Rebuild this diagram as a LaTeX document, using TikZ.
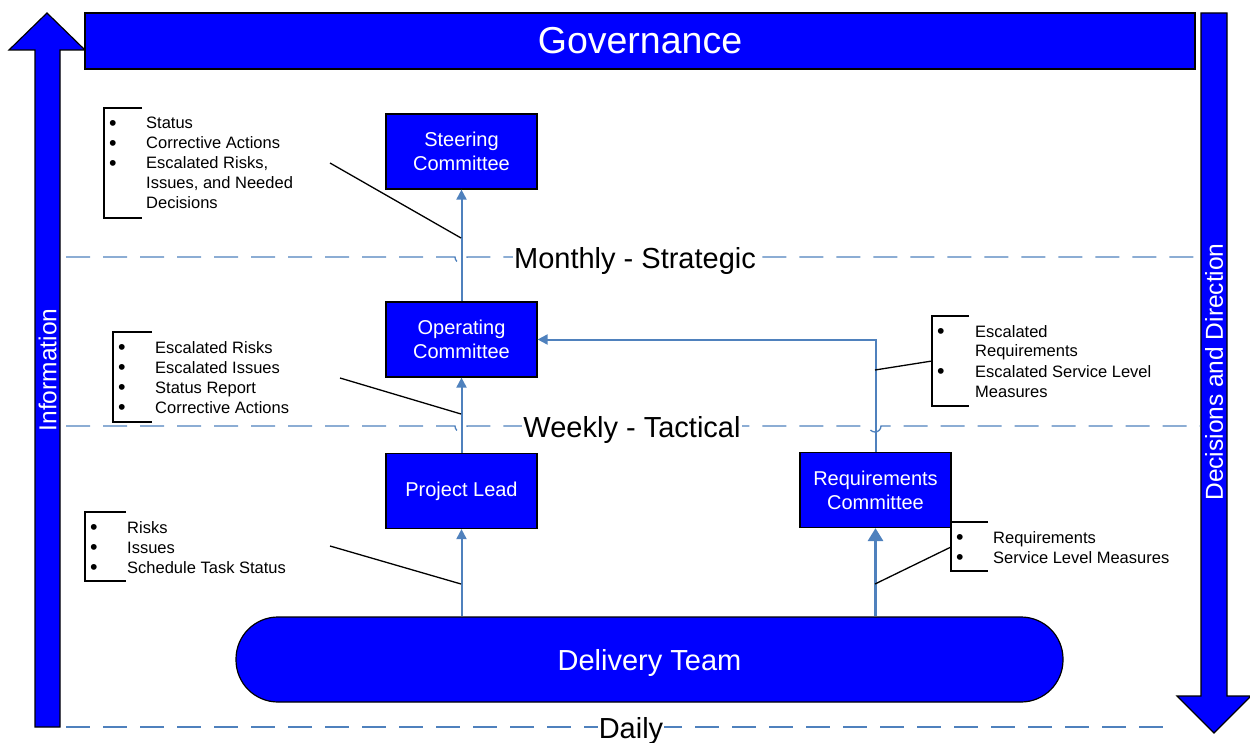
\documentclass[tikz,border=0pt]{standalone}
\usepackage{fontspec}
\setmainfont{Liberation Sans}
\usetikzlibrary{arrows.meta}

\definecolor{pureblue}{RGB}{0,0,255}
\definecolor{steel}{RGB}{79,129,189}

\tikzset{
  bluebox/.style={draw=black, line width=1.2pt, fill=pureblue, text=white, align=center,
    minimum width=151pt, minimum height=75pt, inner sep=0pt, font=\fontsize{20}{24}\selectfont},
  bigarrow/.style={draw=black, line width=1.2pt, fill=pureblue},
  flow/.style={draw=steel, line width=2pt, -{Triangle[length=10pt,width=10pt]}},
  period/.style={draw=steel, line width=1.3pt, dash pattern=on 24pt off 13pt},
  periodlabel/.style={fill=white, inner sep=1pt, text depth=0pt, font=\fontsize{29}{34}\selectfont},
  note/.style={anchor=base west, inner sep=0pt, font=\fontsize{16.5}{20}\selectfont},
  bracket/.style={draw=black, line width=1.2pt},
  leader/.style={draw=black, line width=1.3pt},
}
\newcommand{\itm}[1]{\raisebox{-1.8pt}[0pt][0pt]{\scalebox{1.3}{\textbullet}} & #1\\}
\newcommand{\more}[1]{ & #1\\}

\begin{document}
\begin{tikzpicture}[x=1pt,y=-1pt]
  \useasboundingbox (0,0) rectangle (1250,743);

  % side arrows
  \draw[bigarrow] (35,727) -- (35,50) -- (9,50) -- (47,13) -- (85,50) -- (60,50) -- (60,727) -- cycle;
  \draw[bigarrow] (1201,13) -- (1227,13) -- (1227,696) -- (1251,696) -- (1214,733) -- (1177,696) -- (1201,696) -- cycle;
  \node[rotate=90, text=white, font=\fontsize{24.5}{28}\selectfont] (info) at (47.5,370) {Information};
  \node[rotate=90, text=white, font=\fontsize{24.5}{28}\selectfont] (decide) at (1214,372) {Decisions and Direction};

  % banner
  \node[draw=black, line width=1.2pt, fill=pureblue, text=white, minimum width=1110pt, minimum height=56pt,
    font=\fontsize{37.5}{42}\selectfont] (gov) at (640,41) {Governance};

  % time lines
  \draw[period] (66,257) -- (455,257) arc (180:0:6) -- (1200,257);
  \draw[period] (66,426) -- (455,426) arc (180:0:6) -- (869,426) arc (180:0:6) -- (1200,426);
  \draw[period] (66,727) -- (1175,727);
  \node[periodlabel] (monthly) at (635,258) {Monthly - Strategic};
  \node[periodlabel] (weekly) at (632,427) {Weekly - Tactical};
  \node[periodlabel] (daily) at (631,728) {Daily};

  % bodies
  \node[bluebox] (steer) at (461.5,151.5) {Steering\\Committee};
  \node[bluebox] (oper) at (461.5,339.5) {Operating\\Committee};
  \node[bluebox] (lead) at (461.5,491) {Project Lead};
  \node[bluebox] (reqc) at (875.5,490) {Requirements\\Committee};
  \node[draw=black, line width=1.2pt, fill=pureblue, text=white, rounded corners=42pt, text depth=0pt,
    minimum width=827pt, minimum height=85pt, font=\fontsize{29}{34}\selectfont] (team) at (649.5,659.5) {Delivery Team};

  % reporting flow
  \draw[flow] (lead.south |- team.north) -- (lead.south);
  \draw[flow] (lead.north) -- (oper.south);
  \draw[flow] (oper.north) -- (steer.south);
  \draw[flow, line width=3pt, -{Triangle[length=13pt,width=15pt]}] (reqc.south |- team.north) -- (reqc.south);
  \draw[flow] (reqc.north) |- (oper.east);

  % what goes up at each level
  \draw[bracket] (142,108) -| (104,218) -- (142,218);
  \node[note] (steernote) at (109,129) {\begin{tabular}[t]{@{}p{37pt}@{}l@{}}
    \itm{Status}
    \itm{Corrective Actions}
    \itm{Escalated Risks,}
    \more{Issues, and Needed}
    \more{Decisions}
  \end{tabular}};
  \coordinate (steertail) at (330,163);
  \coordinate (steertip) at (461,238);
  \draw[leader] (steertail) -- (steertip);

  \draw[bracket] (152,332) -| (113,422) -- (152,422);
  \node[note] (opernote) at (118,353) {\begin{tabular}[t]{@{}p{37pt}@{}l@{}}
    \itm{Escalated Risks}
    \itm{Escalated Issues}
    \itm{Status Report}
    \itm{Corrective Actions}
  \end{tabular}};
  \coordinate (opertail) at (340,378);
  \coordinate (opertip) at (461,414);
  \draw[leader] (opertail) -- (opertip);

  \draw[bracket] (126,512) -| (85,581) -- (126,581);
  \node[note] (leadnote) at (90,533) {\begin{tabular}[t]{@{}p{37pt}@{}l@{}}
    \itm{Risks}
    \itm{Issues}
    \itm{Schedule Task Status}
  \end{tabular}};
  \coordinate (leadtail) at (330,546);
  \coordinate (leadtip) at (461,584);
  \draw[leader] (leadtail) -- (leadtip);

  \draw[bracket] (969,316) -| (932,406) -- (969,406);
  \node[note] (escnote) at (937,337) {\begin{tabular}[t]{@{}p{38pt}@{}l@{}}
    \itm{Escalated}
    \more{Requirements}
    \itm{Escalated Service Level}
    \more{Measures}
  \end{tabular}};
  \coordinate (esctail) at (932,361);
  \coordinate (esctip) at (875,370);
  \draw[leader] (esctail) -- (esctip);

  \draw[bracket] (988,522) -| (951,571) -- (988,571);
  \node[note] (reqnote) at (956,543) {\begin{tabular}[t]{@{}p{37pt}@{}l@{}}
    \itm{Requirements}
    \itm{Service Level Measures}
  \end{tabular}};
  \coordinate (reqtail) at (951,547);
  \coordinate (reqtip) at (875,584);
  \draw[leader] (reqtail) -- (reqtip);
\end{tikzpicture}
\end{document}
